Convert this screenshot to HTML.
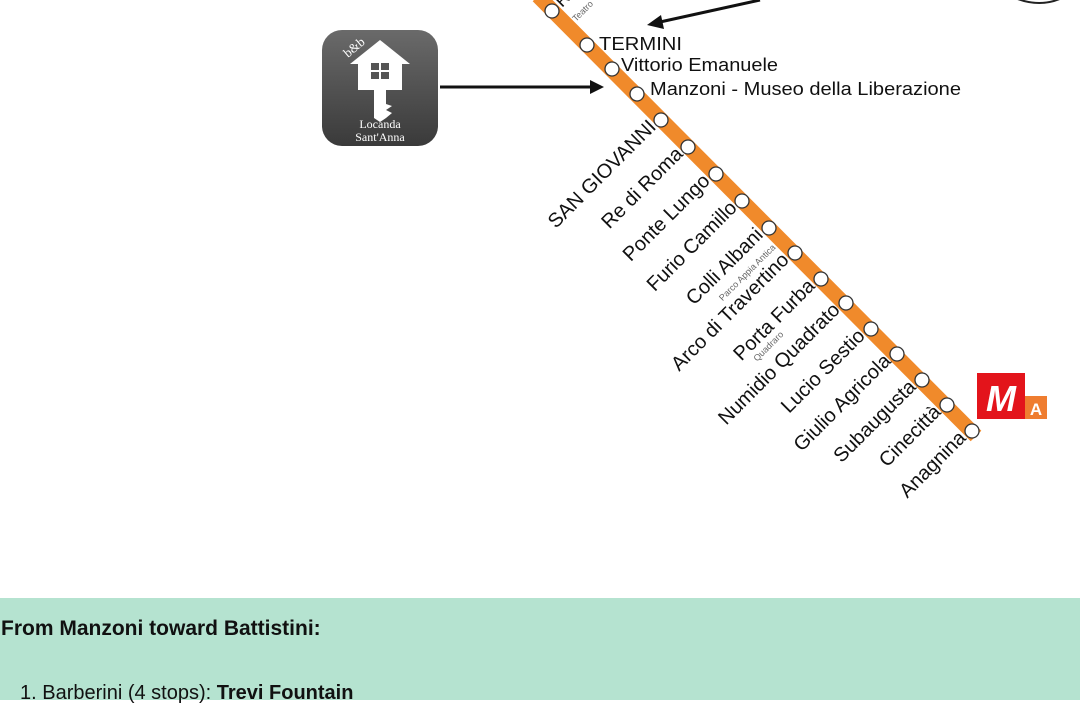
<!DOCTYPE html>
<html><head><meta charset="utf-8"><style>
html,body{margin:0;padding:0;width:1080px;height:700px;overflow:hidden;background:#fff;font-family:"Liberation Sans",Arial,sans-serif}
.panel{position:absolute;left:0;top:598px;width:1080px;height:102px;background:#b5e3d0}
.h{position:absolute;left:1px;top:617px;font-size:21px;font-weight:bold;color:#111}
.li{position:absolute;left:20px;top:682px;font-size:20px;color:#111}
</style></head><body>
<svg width="1080" height="600" style="position:absolute;left:0;top:0" font-family="Liberation Sans, Arial, sans-serif">
<defs>
<linearGradient id="g" x1="0" y1="0" x2="0" y2="1"><stop offset="0" stop-color="#6a6a6a"/><stop offset="1" stop-color="#3a3a3a"/></linearGradient>
</defs>
<line x1="538" y1="-4" x2="976" y2="436" stroke="#f08a2b" stroke-width="15"/>
<g fill="#fff" stroke="#333" stroke-width="1.3">
<circle cx="552" cy="11" r="7"/><circle cx="587" cy="45" r="7"/><circle cx="612" cy="69" r="7"/><circle cx="637" cy="94" r="7"/><circle cx="661" cy="120" r="7"/><circle cx="688" cy="147" r="7"/><circle cx="716" cy="174" r="7"/><circle cx="742" cy="201" r="7"/><circle cx="769" cy="228" r="7"/><circle cx="795" cy="253" r="7"/><circle cx="821" cy="279" r="7"/><circle cx="846" cy="303" r="7"/><circle cx="871" cy="329" r="7"/><circle cx="897" cy="354" r="7"/><circle cx="922" cy="380" r="7"/><circle cx="947" cy="405" r="7"/><circle cx="972" cy="431" r="7"/>
</g>
<g font-size="18" fill="#111">
<text x="599" y="50" textLength="83" lengthAdjust="spacingAndGlyphs">TERMINI</text>
<text x="621" y="71" textLength="157" lengthAdjust="spacingAndGlyphs">Vittorio Emanuele</text>
<text x="650" y="95" textLength="311" lengthAdjust="spacingAndGlyphs">Manzoni - Museo della Liberazione</text>
<text x="562" y="8" transform="rotate(-45 562 8)">R</text>
<text x="576" y="22" font-size="9" fill="#666" transform="rotate(-45 576 22)">Teatro</text>
</g>
<g font-size="20" fill="#111" text-anchor="end">
<text transform="translate(657,128) rotate(-45)">SAN GIOVANNI</text>
<text transform="translate(684,155) rotate(-45)">Re di Roma</text>
<text transform="translate(711,182) rotate(-45)">Ponte Lungo</text>
<text transform="translate(738,209) rotate(-45)">Furio Camillo</text>
<text transform="translate(764,236) rotate(-45)">Colli Albani</text>
<text transform="translate(790,261) rotate(-45)">Arco di Travertino</text>
<text transform="translate(816,287) rotate(-45)">Porta Furba</text>
<text transform="translate(841,311) rotate(-45)">Numidio Quadrato</text>
<text transform="translate(866,337) rotate(-45)">Lucio Sestio</text>
<text transform="translate(892,362) rotate(-45)">Giulio Agricola</text>
<text transform="translate(917,388) rotate(-45)">Subaugusta</text>
<text transform="translate(942,413) rotate(-45)">Cinecittà</text>
<text transform="translate(967,439) rotate(-45)">Anagnina</text>
<text font-size="9" fill="#666" transform="translate(776,248) rotate(-45)">Parco Appia Antica</text>
<text font-size="9" fill="#666" transform="translate(784,335) rotate(-45)">Quadraro</text>
</g>
<rect x="322" y="30" width="116" height="116" rx="20" fill="url(#g)"/>
<path d="M380 40 L410 64 L402 64 L402 90 L386 90 L386 104 L392 106 L386 110 L392 113 L386 118 L380 122 L374 118 L374 90 L358 90 L358 64 L350 64 Z" fill="#fff"/>
<g fill="#555"><rect x="371" y="63" width="8" height="7"/><rect x="381" y="63" width="8" height="7"/><rect x="371" y="72" width="8" height="7"/><rect x="381" y="72" width="8" height="7"/></g>
<text x="348" y="58" font-size="13" fill="#fff" font-family="Liberation Serif, serif" transform="rotate(-40 348 58)">b&amp;b</text>
<text x="380" y="128" font-size="12" fill="#fff" text-anchor="middle" font-family="Liberation Serif, serif">Locanda</text>
<text x="380" y="141" font-size="12" fill="#fff" text-anchor="middle" font-family="Liberation Serif, serif">Sant'Anna</text>
<line x1="440" y1="87" x2="592" y2="87" stroke="#111" stroke-width="3"/>
<polygon points="604,87 590,80 590,94" fill="#111"/>
<line x1="760" y1="0" x2="660" y2="22" stroke="#111" stroke-width="3"/>
<polygon points="647,25 661,15 664,29" fill="#111"/>
<path d="M1015 -2 Q1040 8 1062 -2" fill="none" stroke="#222" stroke-width="2"/>
<rect x="977" y="373" width="48" height="46" fill="#e3141b"/>
<text x="1001" y="411" font-size="36" font-weight="bold" fill="#fff" text-anchor="middle" font-style="italic">M</text>
<rect x="1025" y="396" width="22" height="23" fill="#ef7d30"/>
<text x="1036" y="415" font-size="17" font-weight="bold" fill="#fff" text-anchor="middle">A</text>
</svg>
<div class="panel"></div>
<div class="h">From Manzoni toward Battistini:</div>
<div class="li">1. Barberini (4 stops): <b>Trevi Fountain</b></div>
</body></html>
